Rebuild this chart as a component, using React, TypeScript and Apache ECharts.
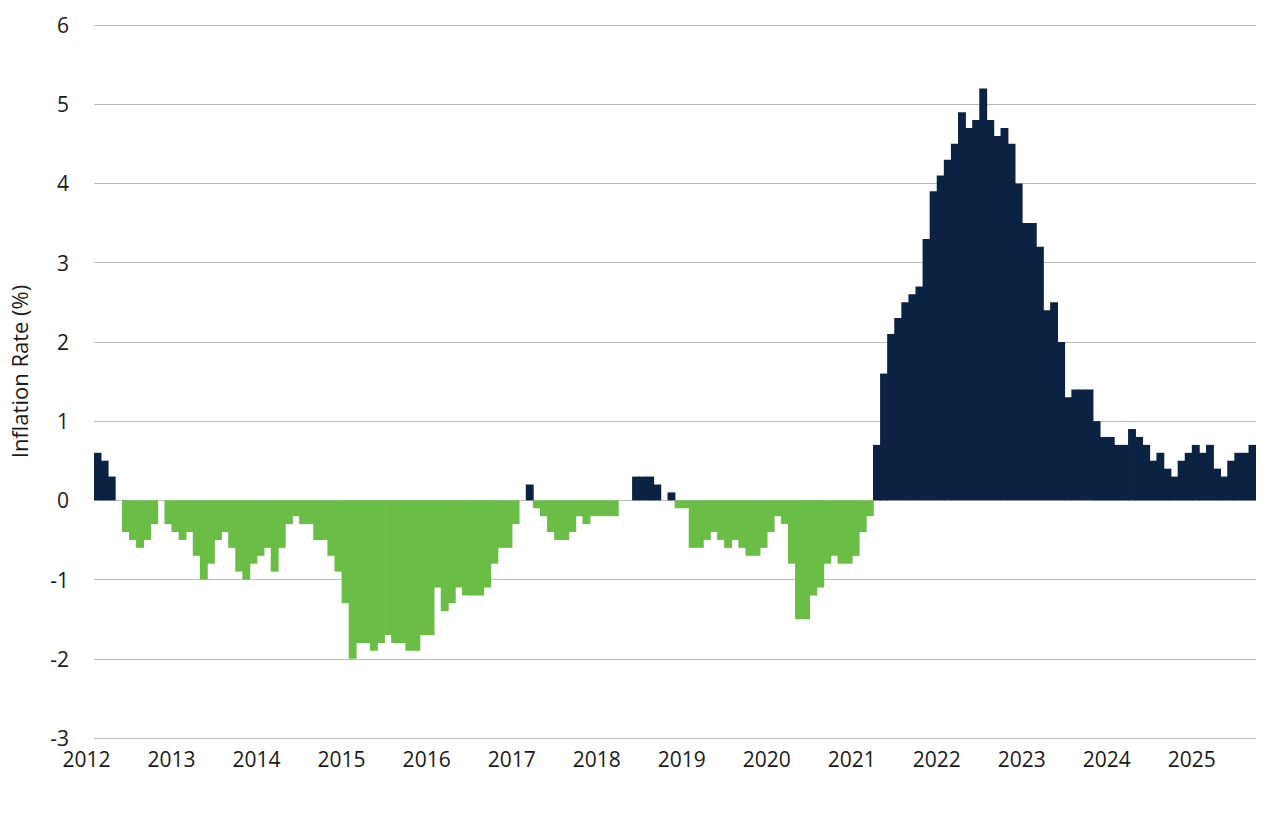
import React, { useEffect, useRef } from "react";
import * as echarts from "echarts";

// Monthly inflation rate (%), Jan 2012 – Aug 2025
const years = [2012, 2013, 2014, 2015, 2016, 2017, 2018, 2019, 2020, 2021, 2022, 2023, 2024, 2025];
const v2012 = [0.6, 0.5, 0.3, 0, -0.4, -0.5, -0.6, -0.5, -0.3, 0, -0.3, -0.4];
const v2013 = [-0.5, -0.4, -0.7, -1.0, -0.8, -0.5, -0.4, -0.6, -0.9, -1.0, -0.8, -0.7];
const v2014 = [-0.6, -0.9, -0.6, -0.3, -0.2, -0.3, -0.3, -0.5, -0.5, -0.7, -0.9, -1.3];
const v2015 = [-2.0, -1.8, -1.8, -1.9, -1.8, -1.7, -1.8, -1.8, -1.9, -1.9, -1.7, -1.7];
const v2016 = [-1.1, -1.4, -1.3, -1.1, -1.2, -1.2, -1.2, -1.1, -0.8, -0.6, -0.6, -0.3];
const v2017 = [0, 0.2, -0.1, -0.2, -0.4, -0.5, -0.5, -0.4, -0.2, -0.3, -0.2, -0.2];
const v2018 = [-0.2, -0.2, 0, 0, 0.3, 0.3, 0.3, 0.2, 0, 0.1, -0.1, -0.1];
const v2019 = [-0.6, -0.6, -0.5, -0.4, -0.5, -0.6, -0.5, -0.6, -0.7, -0.7, -0.6, -0.4];
const v2020 = [-0.2, -0.3, -0.8, -1.5, -1.5, -1.2, -1.1, -0.8, -0.7, -0.8, -0.8, -0.7];
const v2021 = [-0.4, -0.2, 0.7, 1.6, 2.1, 2.3, 2.5, 2.6, 2.7, 3.3, 3.9, 4.1];
const v2022 = [4.3, 4.5, 4.9, 4.7, 4.8, 5.2, 4.8, 4.6, 4.7, 4.5, 4.0, 3.5];
const v2023 = [3.5, 3.2, 2.4, 2.5, 2.0, 1.3, 1.4, 1.4, 1.4, 1.0, 0.8, 0.8];
const v2024 = [0.7, 0.7, 0.9, 0.8, 0.7, 0.5, 0.6, 0.4, 0.3, 0.5, 0.6, 0.7];
const v2025 = [0.6, 0.7, 0.4, 0.3, 0.5, 0.6, 0.6, 0.7];

const yearValues = [v2012, v2013, v2014, v2015, v2016, v2017, v2018, v2019, v2020, v2021, v2022, v2023, v2024, v2025];

const NAVY = "#0b2242";
const GREEN = "#6abd45";
const TEXT = "#1a1a1a";
const FONT = "'Open Sans', 'Noto Sans', sans-serif";

export default function App() {
  const ref = useRef<HTMLDivElement>(null);

  useEffect(() => {
    if (!ref.current) return;
    const chart = echarts.init(ref.current, null, { renderer: "svg" });

    const categories: string[] = [];
    const values: number[] = [];
    years.forEach((y, yi) => {
      yearValues[yi].forEach((v, m) => {
        categories.push(`${y}-${String(m + 1).padStart(2, "0")}`);
        values.push(v);
      });
    });

    chart.setOption({
      animation: false,
      grid: { left: 87, right: 24, top: 25, bottom: 91, containLabel: false },
      xAxis: {
        type: "category",
        data: categories,
        boundaryGap: true,
        axisLine: { show: false, onZero: false },
        axisTick: { show: false },
        splitLine: { show: false },
        axisLabel: {
          interval: (_i: number, v: string) => v.endsWith("-01"),
          formatter: (v: string) => v.slice(0, 4),
          fontFamily: FONT,
          fontSize: 21,
          color: TEXT,
          margin: 10,
          padding: [0, 22, 0, 0],
        },
      },
      yAxis: {
        type: "value",
        min: -3,
        max: 6,
        interval: 1,
        name: "Inflation Rate (%)",
        nameLocation: "middle",
        nameRotate: 90,
        nameGap: 64,
        nameTextStyle: { fontFamily: FONT, fontSize: 22, color: TEXT, padding: [0, 0, 0, 20] },
        axisLine: { show: false },
        axisTick: { show: false },
        axisLabel: { fontFamily: FONT, fontSize: 21, color: TEXT, margin: 25 },
        splitLine: { lineStyle: { color: "#bcbcbc", width: 1 } },
      },
      series: [
        {
          type: "bar",
          data: values.map((v) => ({
            value: v,
            itemStyle: { color: v >= 0 ? NAVY : GREEN },
          })),
          barWidth: 7.9,
          barGap: "0%",
        },
      ],
    });

    return () => chart.dispose();
  }, []);

  return (
    <div
      ref={ref}
      style={{ position: "absolute", left: 0, top: 0, width: 1280, height: 829, background: "#ffffff" }}
    />
  );
}
